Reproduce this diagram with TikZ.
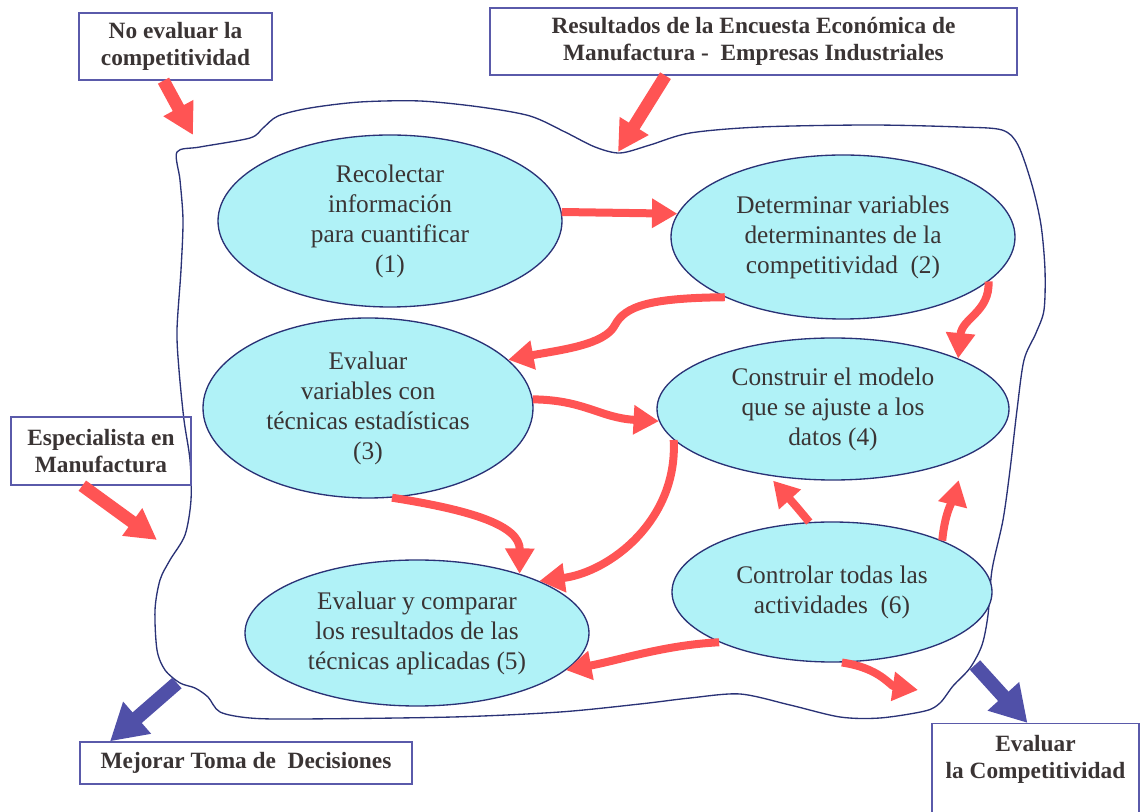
\documentclass[tikz,border=0pt]{standalone}
\usepackage{fontspec}
\setmainfont{Liberation Serif}
\usepackage{xcolor}
\usepackage{tikz}
\usetikzlibrary{arrows.meta,shapes.geometric}

\definecolor{celeste}{HTML}{B0F2F7}
\definecolor{azulosc}{HTML}{2A3276}
\definecolor{rojo}{HTML}{FF5454}
\definecolor{azularr}{HTML}{5050A8}
\definecolor{marco}{HTML}{5A5AAA}
\definecolor{texto}{HTML}{3A3434}

\begin{document}
\begin{tikzpicture}[
  x=0.75pt, y=-0.75pt,
  font=\fontsize{19}{22.5}\selectfont,
  text=texto,
  box/.style={draw=marco, line width=1pt, align=center, inner sep=0pt,
    font=\bfseries\fontsize{17.5}{20.5}\selectfont},
  ell/.style={ellipse, draw=azulosc, line width=1pt, fill=celeste, align=center, inner sep=0pt},
  line/.style={-{Triangle[length=19pt,width=21pt]}, line width=6pt, draw=rojo},
  bigline/.style={-{Triangle[length=23pt,width=24pt]}, line width=9.5pt, draw=rojo},
  bluline/.style={-{Triangle[length=27pt,width=30pt]}, line width=10.5pt, draw=azularr}
]
\useasboundingbox (0,0) rectangle (1140,812);
\clip (0,0) rectangle (1140,812);

% contorno irregular
\draw[azulosc, line width=1pt] plot[smooth cycle, tension=0.5] coordinates {
  (177,152) (200,147) (250,138) (263,128) (278,116) (310,108) (360,102) (420,101)
  (480,107) (530,116) (565,132) (595,147) (620,153) (650,145) (690,133) (760,127)
  (870,125) (960,127) (1002,130) (1018,145) (1032,185) (1041,225) (1045,270)
  (1044,310) (1036,333) (1024,360) (1017,410) (1010,470) (1003,520) (992,570)
  (988,615) (982,645) (970,668) (953,686) (940,703) (925,711) (880,718) (840,717)
  (790,705) (740,694) (690,698) (640,704) (560,712) (453,717) (300,719) (250,718)
  (220,712) (208,697) (195,688) (180,683) (165,670) (157,650) (155,610) (160,580)
  (170,560) (185,535) (191,500) (190,460) (184,420) (179,370) (177,330) (181,270)
  (183,220) (180,180)};

% cajas exteriores
\node[box, minimum width=144.75pt, minimum height=50.25pt] (noeval) at (175.5,46.5) {No evaluar la\\competitividad};
\node[box, minimum width=395.25pt, minimum height=50.25pt] (result) at (753.5,41.5) {Resultados de la Encuesta Económica de\\Manufactura -~~Empresas Industriales};
\node[box, minimum width=135pt, minimum height=51pt] (espec) at (101,451) {Especialista en\\Manufactura};
\node[box, minimum width=249pt, minimum height=31.5pt] (mejorar) at (246,763) {Mejorar Toma de~~Decisiones};
\node[box, anchor=north, minimum width=155.25pt, inner ysep=6.5pt, text depth=62pt] (evaluar) at (1035.5,723)
  {\begin{tabular}[t]{@{}c@{}}Evaluar\\la Competitividad\end{tabular}};

% etapas
\node[ell, minimum width=258pt, minimum height=129pt] (e1) at (390,221) {Recolectar\\información\\para cuantificar\\(1)};
\node[ell, minimum width=258pt, minimum height=123pt] (e2) at (843,237) {Determinar variables\\determinantes de la\\competitividad~~(2)};
\node[ell, minimum width=247.5pt, minimum height=135pt] (e3) at (368,408) {Evaluar\\variables con\\técnicas estadísticas\\(3)};
\node[ell, minimum width=264pt, minimum height=106.5pt] (e4) at (833,409) {Construir el modelo\\que se ajuste a los\\datos (4)};
\node[ell, minimum width=258pt, minimum height=109.5pt] (e5) at (417,633) {Evaluar y comparar\\los resultados de las\\técnicas aplicadas (5)};
\node[ell, minimum width=240pt, minimum height=105pt] (e6) at (832,592) {Controlar todas las\\actividades~~(6)};

\coordinate (fuera) at (918,690);
\coordinate (pNo) at (193,135);
\coordinate (pRes) at (618,152);
\coordinate (pEsp) at (157,540);
\coordinate (pMej) at (177,683);
\coordinate (pEva) at (975,665);

% flechas internas
\draw[line] (e1.3) -- (e2.172);
\draw[line] (e2.207) .. controls (650,298) and (625,306) .. (615,325) .. controls (605,345) and (560,350) .. (e3.19);
\draw[line] (e2.343) .. controls (990,312) and (962,318) .. (e4.22);
\draw[line] (e3.3) .. controls (585,400) and (600,418) .. (e4.184);
\draw[line] (e3.285) .. controls (470,510) and (520,525) .. (e5.30);
\draw[line] (e4.191) .. controls (678,520) and (610,572) .. (e5.23);
\draw[line, shorten >=5pt] (e6.108) .. controls (795,505) .. (e4.226);
\draw[line, shorten >=18pt] (e6.25) .. controls (945,510) and (955,495) .. (e4.340);
\draw[line] (e6.204) .. controls (665,645) and (620,660) .. (e5.346);
\draw[line] (e6.278) .. controls (880,668) and (890,686) .. (fuera);

% flechas exteriores
\draw[bigline] ([xshift=-9pt]noeval.south) -- (pNo);
\draw[bigline] ([xshift=-66pt]result.south) -- (pRes);
\draw[bigline] ([xshift=-14pt]espec.south) -- (pEsp);
\draw[bluline] (pMej) -- ([xshift=-102pt]mejorar.north);
\draw[bluline] (pEva) -- ([xshift=-6pt]evaluar.north);
\end{tikzpicture}
\end{document}
